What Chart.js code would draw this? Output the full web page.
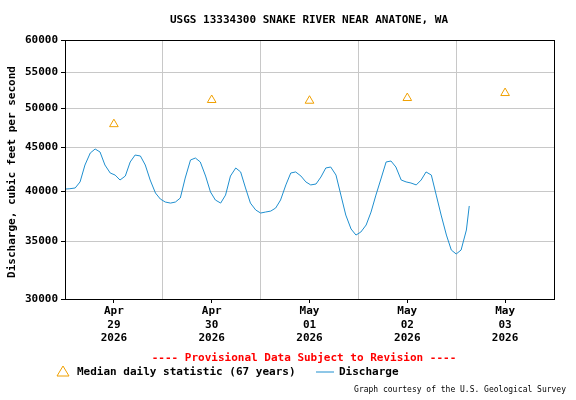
<!DOCTYPE html><html><head><style>body{margin:0;background:#fff}</style>
<script src="https://cdn.jsdelivr.net/npm/chart.js@4"></script></head><body><canvas id="c" width="576" height="400"></canvas><script>
const tickHours=[12,36,60,84,108];
const tickLabels=[["Apr","29","2026"],["Apr","30","2026"],["May","01","2026"],["May","02","2026"],["May","03","2026"]];
const yTicks=[30000,35000,40000,45000,50000,55000,60000];
const medianValues=[47900,51100,51000,51370,52060];
const hours=[0,1.2,2.5,3.7,4.9,6.2,7.4,8.6,9.8,11.1,12.3,13.5,14.8,16.0,17.2,18.5,19.7,20.9,22.2,23.4,24.6,25.9,27.1,28.3,29.5,30.8,32.0,33.2,34.5,35.7,36.9,38.2,39.4,40.6,41.9,43.1,44.3,45.5,46.8,48.0,49.2,50.5,51.7,52.9,54.2,55.4,56.6,57.9,59.1,60.3,61.6,62.8,64.0,65.2,66.5,67.7,68.9,70.2,71.4,72.6,73.9,75.1,76.3,77.6,78.8,80.0,81.2,82.5,83.7,84.9,86.2,87.4,88.6,89.9,91.1,92.3,93.6,94.8,96.0,97.2,98.5,99.2];
const discharge=[40260,40300,40380,41040,42940,44340,44820,44460,42940,42030,41800,41250,41690,43290,44100,43990,42940,41250,39840,39200,38890,38780,38890,39310,41470,43520,43750,43290,41690,39950,39100,38780,39620,41690,42600,42150,40380,38780,38070,37760,37860,37960,38270,39100,40710,42030,42150,41690,41040,40710,40810,41580,42600,42710,41800,39620,37560,36180,35600,35890,36570,37860,39620,41470,43290,43400,42710,41250,41040,40920,40710,41250,42150,41800,39620,37560,35600,34200,33840,34200,36080,38480];
const F='"DejaVu Sans Mono", monospace';
const deco={id:'deco',afterDraw(ch){const c=ch.ctx;c.save();c.fillStyle='#000';c.textAlign='center';c.textBaseline='middle';
c.font='bold 11px '+F;c.fillText('USGS 13334300 SNAKE RIVER NEAR ANATONE, WA',309,20);
c.save();c.translate(12,172);c.rotate(-Math.PI/2);c.fillText('Discharge, cubic feet per second',0,0);c.restore();
c.fillStyle='#f00';c.fillText('---- Provisional Data Subject to Revision ----',304,358);
c.fillStyle='#000';c.textAlign='left';c.fillText('Median daily statistic (67 years)',77,372);c.fillText('Discharge',339,372);
c.strokeStyle='#f0a000';c.lineWidth=1;c.beginPath();c.moveTo(63,366);c.lineTo(69,376);c.lineTo(57,376);c.closePath();c.stroke();
c.strokeStyle='#1f8fcf';c.beginPath();c.moveTo(316,372);c.lineTo(334,372);c.stroke();
c.font='8px '+F;c.textAlign='right';c.fillText('Graph courtesy of the U.S. Geological Survey',566,390);
const a=ch.chartArea;c.strokeStyle='#000';c.strokeRect(a.left+0.5,a.top+0.5,a.right-a.left,a.bottom-a.top);c.restore();}};
new Chart(document.getElementById('c'),{type:'scatter',data:{datasets:[
{data:hours.map((h,i)=>({x:h,y:discharge[i]})),showLine:true,borderColor:'#1f8fcf',borderWidth:1,pointRadius:0,tension:0},
{data:tickHours.map((h,i)=>({x:h,y:medianValues[i]})),pointStyle:'triangle',pointRadius:5,borderColor:'#f0a000',backgroundColor:'rgba(0,0,0,0)',borderWidth:1}]},
options:{responsive:false,animation:false,devicePixelRatio:1,layout:{padding:{top:40,right:22,bottom:50,left:0}},
plugins:{legend:{display:false},tooltip:{enabled:false}},
scales:{x:{type:'linear',min:0,max:120,afterBuildTicks:s=>{s.ticks=[0,12,24,36,48,60,72,84,96,108,120].map(v=>({value:v}))},
afterFit:s=>{s.height=51},
ticks:{autoSkip:false,maxRotation:0,color:'#000',font:{family:F,size:11,weight:'bold'},padding:2,callback:v=>{const i=tickHours.indexOf(v);return i<0?'':tickLabels[i]}},
grid:{color:c=>(c.tick&&c.tick.value%24===0)?'#c8c8c8':'rgba(0,0,0,0)',tickColor:c=>(c.tick&&c.tick.value%24===12)?'#000':'rgba(0,0,0,0)',tickLength:4},border:{color:'#000'}},
y:{type:'logarithmic',min:30000,max:60000,afterBuildTicks:s=>{s.ticks=yTicks.map(v=>({value:v}))},afterFit:s=>{s.width=65},
ticks:{color:'#000',font:{family:F,size:11,weight:'bold'},callback:v=>String(v)},grid:{color:'#c8c8c8',tickLength:4,tickColor:'#000'},border:{color:'#000'}}}},
plugins:[deco]});
</script></body></html>
